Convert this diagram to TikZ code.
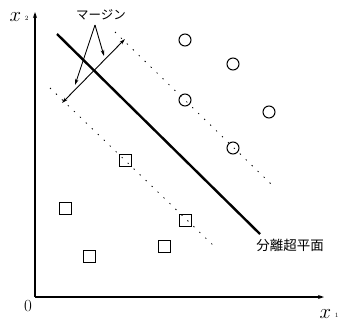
\documentclass[tikz,border=0pt]{standalone}
\usepackage{fontspec}
\newfontfamily\cjk{Noto Sans CJK JP}
\usetikzlibrary{arrows.meta}
\tikzset{
  axis/.style={line width=1.3pt,-{Stealth[length=6pt,width=4pt]}},
  hyper/.style={line width=2.4pt},
  marginline/.style={line width=0.8pt,dash pattern=on 1.3pt off 7pt},
  thinarrow/.style={line width=0.9pt,-{Stealth[length=6pt,width=3.5pt]}},
  dblarrow/.style={line width=0.9pt,{Stealth[length=6pt,width=3.5pt]}-{Stealth[length=6pt,width=3.5pt]}},
  possample/.style={draw,circle,line width=1pt,minimum size=12pt,inner sep=0pt},
  negsample/.style={draw,rectangle,line width=1pt,minimum size=12pt,inner sep=0pt},
  lbl/.style={inner sep=0pt,font=\cjk\fontsize{13.5}{14}\selectfont},
  axlbl/.style={inner sep=0pt,font=\fontsize{22}{22}\selectfont},
}
\newcommand{\axsub}[1]{\raisebox{0.5pt}{\fontsize{6.5}{6.5}\selectfont #1}}
\begin{document}
\begin{tikzpicture}[x=1pt,y=-1pt]
\useasboundingbox (0,0) rectangle (339,324);
% axes
\coordinate (O) at (35,297);
\coordinate (xend) at (324,297);
\coordinate (yend) at (35,12);
\draw[axis] (O) -- (xend);
\draw[axis] (O) -- (yend);
\node[axlbl,anchor=base] (xtwo) at (19,21) {$x$\,\axsub{2}};
\node[axlbl,anchor=base] (xone) at (329,318) {$x$\,\axsub{1}};
\node[inner sep=0pt,font=\fontsize{17}{17}\selectfont] (zero) at (28,306) {0};
% margin lines
\coordinate (u1) at (115,32);
\coordinate (u2) at (271,184);
\coordinate (l1) at (50,88);
\coordinate (l2) at (216,248);
\draw[marginline] (u1) -- (u2);
\draw[marginline] (l1) -- (l2);
% hyperplane
\coordinate (h1) at (57,34);
\coordinate (h2) at (260,234);
\draw[hyper] (h1) -- (h2);
\node[lbl] (hplabel) at (290,245) {分離超平面};
% margin arrow
\coordinate (m1) at (62,103);
\coordinate (m2) at (125,39);
\draw[dblarrow] (m1) -- (m2);
\node[lbl,font=\cjk\fontsize{12.5}{13}\selectfont] (mlabel) at (101,15) {マージン};
\coordinate (mstart) at (95,25);
\coordinate (mend1) at (75,85);
\coordinate (mend2) at (104,56);
\draw[thinarrow] (mstart) -- (mend1);
\draw[thinarrow] (mstart) -- (mend2);
% positive samples
\node[possample] (c1) at (185,40) {};
\node[possample] (c2) at (233,64) {};
\node[possample] (c3) at (185,100) {};
\node[possample] (c4) at (269,112) {};
\node[possample] (c5) at (233,148) {};
% negative samples
\node[negsample] (s1) at (125,160) {};
\node[negsample] (s2) at (65,208) {};
\node[negsample] (s3) at (89,256) {};
\node[negsample] (s4) at (164,246) {};
\node[negsample] (s5) at (185,220) {};
\end{tikzpicture}
\end{document}
